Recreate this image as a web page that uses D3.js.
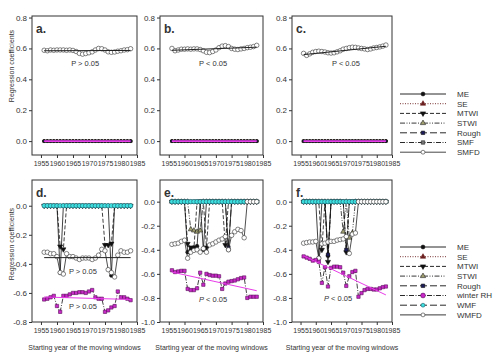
<!DOCTYPE html>
<html>
<head>
<meta charset="utf-8">
<script src="https://cdn.jsdelivr.net/npm/d3@7"></script>
<style>
  body { margin: 0; background: #fff; }
  text { font-family: Arial, "Liberation Sans", sans-serif; fill: #333; }
</style>
</head>
<body>
<svg id="chart" width="500" height="354"></svg>
<script>
// starting years of the moving windows
const years = [1956,1957,1958,1959,1960,1961,1962,1963,1964,1965,1966,1967,1968,1969,
               1970,1971,1972,1973,1974,1975,1976,1977,1978,1979,1980,1981,1982,1983];
const xTicks = [1955,1960,1965,1970,1975,1980,1985];
const topTicks = [0.0,0.2,0.4,0.6,0.8];
const dTicks = [0.0,-0.2,-0.4,-0.6,-0.8];
const efTicks = [0.0,-0.2,-0.4,-0.6,-0.8,-1.0];

const zero = [0,0,0,0,0,0,0,0,0,0,0,0,0,0,0,0,0,0,0,0,0,0,0,0,0,0,0,0];

// top row (SMFD)
const smfdA = [0.588,0.585,0.59,0.588,0.59,0.59,0.59,0.588,0.59,0.587,0.58,0.568,0.563,0.567,
               0.572,0.578,0.59,0.60,0.598,0.59,0.578,0.575,0.577,0.582,0.585,0.59,0.592,0.598];
const smfdB = [0.60,0.585,0.59,0.595,0.595,0.597,0.595,0.597,0.597,0.593,0.585,0.575,0.573,0.58,
               0.59,0.605,0.615,0.618,0.612,0.60,0.595,0.593,0.597,0.60,0.605,0.608,0.612,0.62];
const smfdC = [0.568,0.555,0.565,0.575,0.58,0.582,0.58,0.577,0.572,0.57,0.572,0.578,0.585,0.595,
               0.60,0.605,0.608,0.607,0.603,0.60,0.597,0.593,0.597,0.603,0.606,0.61,0.615,0.622];
const trendA = [0.585,0.587];
const trendB = [0.588,0.608];
const trendC = [0.560,0.614];

// panel d
const meD   = [0,0,0,0,0,-0.46,0,0,0,0,0,0,0,0,0,0,0,0,0,0,0,-0.48,0,0,0,0,0,0];
const mtwiD = [0,0,0,0,0,-0.28,-0.30,0,0,0,0,0,0,0,0,0,0,0,0,-0.27,-0.27,-0.26,0,0,0,0,0,0];
const wmfdD = [-0.32,-0.32,-0.33,-0.33,-0.35,-0.46,-0.47,-0.33,-0.35,-0.35,-0.36,-0.37,-0.36,-0.36,
               -0.36,-0.37,-0.36,-0.34,-0.30,-0.31,-0.44,-0.46,-0.49,-0.34,-0.31,-0.32,-0.32,-0.31];
const rhD   = [-0.645,-0.64,-0.63,-0.62,-0.69,-0.73,-0.62,-0.62,-0.61,-0.60,-0.60,-0.595,-0.595,-0.60,
               -0.59,-0.58,-0.63,-0.64,-0.64,-0.73,-0.72,-0.70,-0.69,-0.59,-0.63,-0.63,-0.64,-0.65];
const trendDw = [-0.357,-0.357];
const trendDrh = [-0.628,-0.645];

// panel e
const meE   = [0,0,0,0,0,-0.42,-0.40,-0.38,-0.37,0,-0.40,0,0,0,0,0,0,0,-0.40,0,0,0,0,0,0,0,0,0];
const mtwiE = [0,0,0,0,0,-0.35,-0.38,-0.39,0,0,0,-0.38,0,0,0,0,0,-0.36,0,0,0,0,0,0,0,0,0,0];
const stwiE = [0,0,0,0,0,0,-0.23,-0.24,-0.25,-0.24,0,0,0,0,0,0,0,0,0,0,0,0,0,0,0,0,0,0];
const roughE= [0,0,0,0,0,0,0,0,0,0,0,0,0,0,0,0,0,0,-0.38,0,0,0,0,0,0,0,0,0];
const wmfdE = [-0.355,-0.35,-0.345,-0.33,-0.32,-0.47,-0.42,-0.405,-0.40,-0.42,-0.39,-0.42,-0.36,-0.35,
               -0.335,-0.32,-0.31,-0.29,-0.40,-0.28,-0.25,-0.23,-0.24,-0.30,0,0,0,0];
const rhE   = [-0.57,-0.585,-0.58,-0.575,-0.575,-0.725,-0.735,-0.735,-0.72,-0.59,-0.69,-0.60,-0.61,-0.615,
               -0.615,-0.62,-0.725,-0.68,-0.665,-0.66,-0.655,-0.645,-0.635,-0.63,-0.80,-0.79,-0.79,-0.79];
const trendErh = [-0.585,-0.74];

// panel f
const meF   = [0,0,0,0,0,-0.47,0,0,-0.45,0,0,0,0,0,0,0,0,0,0,0,0,0,0,0,0,0,0,0];
const mtwiF = [0,0,0,0,0,0,-0.40,0,-0.50,0,0,0,0,0,-0.42,0,0,0,0,0,0,0,0,0,0,0,0,0];
const stwiF = [0,0,0,0,0,0,0,0,0,0,0,0,0,-0.25,0,-0.30,-0.26,0,0,0,0,0,0,0,0,0,0,0];
const roughF= [0,0,0,0,0,0,0,0,-0.44,0,0,0,0,0,-0.40,0,0,0,0,0,0,0,0,0,0,0,0,0];
const wmfdF = [-0.345,-0.34,-0.335,-0.335,-0.33,-0.47,-0.35,-0.345,-0.335,-0.33,-0.33,-0.32,-0.315,-0.31,
               -0.29,-0.43,-0.27,-0.26,0,0,0,0,0,0,0,0,0,0];
const rhF   = [-0.455,-0.465,-0.475,-0.49,-0.485,-0.50,-0.675,-0.545,-0.705,-0.55,-0.54,-0.54,-0.545,-0.59,
               -0.70,-0.62,-0.585,-0.575,-0.79,-0.76,-0.735,-0.725,-0.725,-0.73,-0.73,-0.72,-0.71,-0.705];
const trendFrh = [-0.45,-0.775];

const topLegend = ["ME","SE","MTWI","STWI","Rough","SMF","SMFD"];
const bottomLegend = ["ME","SE","MTWI","STWI","Rough","winter RH","WMF","WMFD"];

// styles per series
const styles = {
  "ME":        {stroke:"#111", dash:null, marker:"circle", fill:"#111", edge:"#111"},
  "SE":        {stroke:"#6b1f1f", dash:"1,1.5", marker:"triangle", fill:"#6b1f1f", edge:"#6b1f1f"},
  "MTWI":      {stroke:"#111", dash:"4,2", marker:"tdown", fill:"#111", edge:"#111"},
  "STWI":      {stroke:"#222", dash:"5,1.5,1,1.5,1,1.5", marker:"triangle", fill:"#a0a070", edge:"#222"},
  "Rough":     {stroke:"#111", dash:"7,3", marker:"square", fill:"#1c1c5c", edge:"#111"},
  "SMF":       {stroke:"#111", dash:"5,1.5,1,1.5", marker:"square", fill:"#777", edge:"#222"},
  "SMFD":      {stroke:"#333", dash:null, marker:"circle", fill:"#fff", edge:"#333"},
  "winter RH": {stroke:"#111", dash:"5,1.5,1,1.5", marker:"square", fill:"#c828c8", edge:"#5a105a"},
  "WMF":       {stroke:"#111", dash:"7,3", marker:"circle", fill:"#3ee0e0", edge:"#1d5a6a"},
  "WMFD":      {stroke:"#222", dash:null, marker:"circle", fill:"#fff", edge:"#333"}
};

const cols = [[32,137],[160,263],[292,392]];
const rows = {top:[16,155], bottom:[180,322]};
const xDomain = [1952.2, 1985];
const magenta = "#e83ce8";

const panels = [
  {col:0, row:"top", letter:"a.", domain:[-0.09,0.81], ticks:topTicks,
   series:[["ME",zero],["SE",zero],["MTWI",zero],["STWI",zero],["SMF",zero],["Rough",zero],["SMFD",smfdA]],
   trends:[[trendA,"#222",1],[[0,0],magenta,1.6]],
   notes:[{t:"P > 0.05", yr:1968.8, v:0.487}], yTitle:true},
  {col:1, row:"top", letter:"b.", domain:[-0.09,0.81], ticks:topTicks,
   series:[["ME",zero],["SE",zero],["MTWI",zero],["STWI",zero],["SMF",zero],["Rough",zero],["SMFD",smfdB]],
   trends:[[trendB,"#222",1],[[0,0],magenta,1.6]],
   notes:[{t:"P < 0.05", yr:1969.1, v:0.487}]},
  {col:2, row:"top", letter:"c.", domain:[-0.09,0.81], ticks:topTicks,
   series:[["ME",zero],["SE",zero],["MTWI",zero],["STWI",zero],["SMF",zero],["Rough",zero],["SMFD",smfdC]],
   trends:[[trendC,"#222",1],[[0,0],magenta,1.6]],
   notes:[{t:"P < 0.05", yr:1969.9, v:0.487}]},
  {col:0, row:"bottom", letter:"d.", domain:[-0.8,0.177], ticks:dTicks,
   series:[["ME",meD],["MTWI",mtwiD],["WMF",zero],["WMFD",wmfdD],["winter RH",rhD]],
   trends:[[trendDw,"#222",1],[trendDrh,magenta,1]],
   notes:[{t:"P > 0.05", yr:1968.1, v:-0.471},{t:"P > 0.05", yr:1968.1, v:-0.712}], yTitle:true, xTitle:true},
  {col:1, row:"bottom", letter:"e.", domain:[-1.0,0.18], ticks:efTicks,
   series:[["ME",meE],["MTWI",mtwiE],["STWI",stwiE],["Rough",roughE],["WMF",zero],["WMFD",wmfdE],["winter RH",rhE]],
   trends:[[trendErh,magenta,1]],
   notes:[{t:"P < 0.05", yr:1969.1, v:-0.832, italic:true}], xTitle:true},
  {col:2, row:"bottom", letter:"f.", domain:[-1.0,0.18], ticks:efTicks,
   series:[["ME",meF],["MTWI",mtwiF],["STWI",stwiF],["Rough",roughF],["WMF",zero],["WMFD",wmfdF],["winter RH",rhF]],
   trends:[[trendFrh,magenta,1]],
   notes:[{t:"P < 0.05", yr:1967.3, v:-0.824, italic:true}], xTitle:true}
];

const svg = d3.select("#chart");

function symbolPath(kind, size) {
  const type = kind === "circle" ? d3.symbolCircle
             : kind === "square" ? d3.symbolSquare
             : d3.symbolTriangle;
  return d3.symbol().type(type).size(size)();
}

function drawMarkers(g, kind, pts, st, size) {
  g.selectAll(null)
    .data(pts)
    .enter()
    .append("path")
    .attr("d", symbolPath(kind, size))
    .attr("transform", d => `translate(${d[0]},${d[1]})` + (kind === "tdown" ? " rotate(180)" : ""))
    .attr("fill", st.fill)
    .attr("stroke", st.edge)
    .attr("stroke-width", 0.6);
}

function drawPanel(p) {
  const [xa, xb] = cols[p.col];
  const [ya, yb] = rows[p.row];
  const x = d3.scaleLinear().domain(xDomain).range([xa, xb]);
  const y = d3.scaleLinear().domain(p.domain).range([yb, ya]);
  const g = svg.append("g");

  // y axis
  const ya_ = g.append("g")
    .attr("transform", `translate(${xa},0)`)
    .call(d3.axisLeft(y).tickValues(p.ticks).tickFormat(d => d.toFixed(1)).tickSize(3).tickPadding(2))
    .attr("font-family", null).attr("font-size", null);
  ya_.select(".domain").remove();
  ya_.selectAll("line").attr("stroke", "#333");
  ya_.selectAll("text").style("font-size", "8px").attr("fill", "#333");

  // x axis
  const xa_ = g.append("g")
    .attr("transform", `translate(0,${yb})`)
    .call(d3.axisBottom(x).tickValues(xTicks).tickFormat(d3.format("d")).tickSize(3).tickPadding(3))
    .attr("font-family", null).attr("font-size", null);
  xa_.select(".domain").remove();
  xa_.selectAll("line").attr("stroke", "#333");
  xa_.selectAll("text").style("font-size", "7px").attr("fill", "#333");

  // frame
  g.append("rect")
    .attr("x", xa).attr("y", ya)
    .attr("width", xb - xa).attr("height", yb - ya)
    .attr("fill", "none").attr("stroke", "#333").attr("stroke-width", 1);

  const line = d3.line().x((d, i) => x(years[i])).y(d => y(d));

  // series
  p.series.forEach(([name, vals]) => {
    const st = styles[name];
    g.append("path")
      .datum(vals)
      .attr("d", line)
      .attr("fill", "none")
      .attr("stroke", st.stroke)
      .attr("stroke-width", 0.8)
      .attr("stroke-dasharray", st.dash);
    let size = name === "WMFD" || name === "SMFD" || name === "WMF" ? 16 : 11;
    if (p.row === "top" && name !== "SMFD") size = 5;
    drawMarkers(g, st.marker, vals.map((v, i) => [x(years[i]), y(v)]), st, size);
  });

  // regression lines
  p.trends.forEach(([ends, color, w]) => {
    g.append("line")
      .attr("x1", x(years[0])).attr("x2", x(years[years.length - 1]))
      .attr("y1", y(ends[0])).attr("y2", y(ends[1]))
      .attr("stroke", color).attr("stroke-width", w);
  });

  // panel letter
  g.append("text")
    .attr("x", xa + 4).attr("y", ya + 17)
    .style("font-size", "12px").style("font-weight", "bold")
    .attr("fill", "#111")
    .text(p.letter);

  // P notes
  p.notes.forEach(n => {
    const t = g.append("text")
      .attr("x", x(n.yr)).attr("y", y(n.v))
      .attr("text-anchor", "middle")
      .style("font-size", "7.5px").attr("fill", "#444");
    if (n.italic) {
      t.append("tspan").style("font-style", "italic").text("P");
      t.append("tspan").text(n.t.slice(1));
    } else {
      t.text(n.t);
    }
  });

  if (p.yTitle) {
    g.append("text")
      .attr("transform", `translate(13.5,${p.row === "top" ? 66 : 244}) rotate(-90)`)
      .attr("text-anchor", "middle")
      .style("font-size", "7px").attr("fill", "#333")
      .text("Regression coefficients");
  }
  if (p.xTitle) {
    g.append("text")
      .attr("x", (xa + xb) / 2).attr("y", 350)
      .attr("text-anchor", "middle")
      .style("font-size", "7px").attr("fill", "#333")
      .text("Starting year of the moving windows");
  }
}

panels.forEach(drawPanel);

// legends
function drawLegend(names, top) {
  const g = svg.append("g");
  names.forEach((name, i) => {
    const st = styles[name];
    const cy = top + i * 9.7;
    g.append("line")
      .attr("x1", 400).attr("x2", 446).attr("y1", cy).attr("y2", cy)
      .attr("stroke", st.stroke).attr("stroke-width", 0.9)
      .attr("stroke-dasharray", st.dash);
    const kind = name === "winter RH" ? "circle" : st.marker;
    drawMarkers(g, kind, [[423, cy]], st, name === "winter RH" ? 18 : 12);
    g.append("text")
      .attr("x", 457).attr("y", cy).attr("dy", "0.35em")
      .style("font-size", "8px").attr("fill", "#333")
      .text(name);
  });
}
drawLegend(topLegend, 94);
drawLegend(bottomLegend, 247);
</script>
</body>
</html>
